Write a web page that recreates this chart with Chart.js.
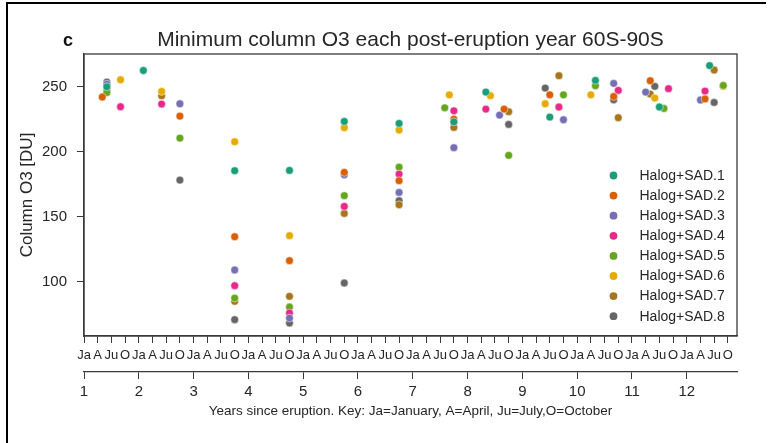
<!DOCTYPE html>
<html>
<head>
<meta charset="utf-8">
<title>Minimum column O3 60S-90S</title>
<script src="https://cdn.jsdelivr.net/npm/chart.js@4.4.1/dist/chart.umd.min.js"></script>
<style>
    html, body { margin: 0; padding: 0; background: #fff; }
    #wrap { width: 779px; height: 443px; }
</style>
</head>
<body>
<div id="wrap"><canvas id="o3-chart" width="779" height="443"></canvas></div>
<script>
// x = months since January of year 1 after the eruption, y = minimum column O3 [DU]
const seriesNames = ['Halog+SAD.1', 'Halog+SAD.2', 'Halog+SAD.3', 'Halog+SAD.4',
                     'Halog+SAD.5', 'Halog+SAD.6', 'Halog+SAD.7', 'Halog+SAD.8'];
const seriesColors = ['#1b9e77', '#d95f02', '#7570b3', '#e7298a',
                      '#66a61e', '#e6ab02', '#a6761d', '#666666'];

const sad1Months = [5, 13, 33, 45, 57, 69, 81, 88, 102, 112, 126, 137];
const sad1O3 = [250, 262.5, 185.4, 185.6, 223.3, 221.8, 223, 245.9, 226.7, 254.9, 234.4, 266.3];

const sad2Months = [4, 21, 33, 45, 57, 69, 81, 92, 102, 116, 124, 136];
const sad2O3 = [242.1, 227.4, 134.6, 116.2, 184.1, 177.7, 225.1, 232.8, 243.8, 242.5, 254.6, 240.6];

const sad3Months = [5, 21, 33, 45, 57, 69, 81, 91, 105, 116, 123, 135];
const sad3O3 = [252, 236.9, 109, 72, 182.3, 168.7, 203.1, 228.2, 224.6, 252.6, 245.9, 239.8];

const sad4Months = [8, 17, 33, 45, 57, 69, 81, 88, 104, 117, 128, 136];
const sad4O3 = [234.6, 236.7, 96.9, 75.9, 157.9, 182.8, 231.5, 232.8, 234.4, 247.2, 248.5, 246.7];

const sad5Months = [5, 21, 33, 45, 57, 69, 79, 93, 105, 112, 127, 140];
const sad5O3 = [245.5, 210.5, 87.4, 80.5, 166.2, 188.2, 233.8, 197.2, 243.8, 250.8, 233.3, 251];

const sad6Months = [8, 17, 33, 45, 57, 69, 80, 89, 101, 111, 125, 140];
const sad6O3 = [255.4, 246.4, 207.7, 135.4, 218.5, 216.7, 243.8, 243.1, 236.9, 243.8, 241.3, 250.3];

const sad7Months = [5, 17, 33, 45, 57, 69, 81, 93, 104, 117, 124, 138];
const sad7O3 = [247.3, 243.1, 84.9, 88.7, 152.5, 159.2, 218.7, 230.8, 258.5, 226.2, 244.4, 262.9];

const sad8Months = [5, 21, 33, 45, 57, 69, 81, 93, 101, 116, 125, 138];
const sad8O3 = [253.6, 178.2, 70.8, 68.2, 99, 162.3, 222.8, 221, 249, 240, 250.3, 237.9];

const allMonths = [sad1Months, sad2Months, sad3Months, sad4Months, sad5Months, sad6Months, sad7Months, sad8Months];
const allO3 = [sad1O3, sad2O3, sad3O3, sad4O3, sad5O3, sad6O3, sad7O3, sad8O3];

// tick labels
const monthLabels = ['Ja', 'A', 'Ju', 'O'];
const monthTicks = [];
for (let m = 0; m <= 141; m += 3) monthTicks.push(m);
const yearLabels = ['1', '2', '3', '4', '5', '6', '7', '8', '9', '10', '11', '12'];
const yearTicks = yearLabels.map((_, i) => i * 12);
const yTicks = [100, 150, 200, 250];

const textColor = '#262626';
const axisColor = '#3a3a3a';
const fontFamily = '"Liberation Sans", Arial, sans-serif';

const datasets = seriesNames.map((name, i) => ({
    label: name,
    data: allMonths[i].map((m, j) => ({ x: m, y: allO3[i][j] })),
    backgroundColor: seriesColors[i],
    borderColor: '#ffffff',
    borderWidth: 0.5,
    pointRadius: 3.9,
    pointHoverRadius: 3.9
}));

// outer panel frame, plot box and the "c" tag
const panelFrame = {
    id: 'panelFrame',
    afterDraw(chart) {
        const ctx = chart.ctx;
        const a = chart.chartArea;
        ctx.save();
        ctx.strokeStyle = '#000';
        ctx.lineWidth = 2;
        ctx.beginPath();
        ctx.moveTo(7, 443);
        ctx.lineTo(7, 3);
        ctx.lineTo(766, 3);
        ctx.stroke();

        ctx.strokeStyle = axisColor;
        ctx.lineWidth = 1.3;
        ctx.strokeRect(a.left, a.top, a.right - a.left, a.bottom - a.top);

        ctx.fillStyle = '#111';
        ctx.font = 'bold 18px ' + fontFamily;
        ctx.textAlign = 'center';
        ctx.textBaseline = 'middle';
        ctx.fillText('c', 68, 41);
        ctx.restore();
    }
};

// legend drawn inside the plot, lower right
const insideLegend = {
    id: 'insideLegend',
    afterDatasetsDraw(chart) {
        const ctx = chart.ctx;
        ctx.save();
        ctx.font = '14px ' + fontFamily;
        ctx.textAlign = 'left';
        ctx.textBaseline = 'middle';
        chart.data.datasets.forEach((ds, i) => {
            const y = 175.5 + i * 20.1;
            ctx.beginPath();
            ctx.arc(613.5, y, 3.9, 0, Math.PI * 2);
            ctx.fillStyle = ds.backgroundColor;
            ctx.fill();
            ctx.fillStyle = textColor;
            ctx.fillText(ds.label, 639.5, y + 0.5);
        });
        ctx.restore();
    }
};

const ctx = document.getElementById('o3-chart').getContext('2d');
const chart = new Chart(ctx, {
    type: 'scatter',
    data: { datasets: datasets },
    plugins: [panelFrame, insideLegend],
    options: {
        responsive: false,
        animation: false,
        devicePixelRatio: 1,
        layout: { padding: { left: 0, right: 42, top: 0, bottom: 24 } },
        plugins: {
            legend: { display: false },
            tooltip: { enabled: false },
            title: {
                display: true,
                fullSize: false,  // centre over the plot box, not the canvas
                text: 'Minimum column O3 each post-eruption year 60S-90S',
                color: textColor,
                font: { family: fontFamily, size: 21, weight: 'normal' },
                padding: { top: 28, bottom: 0.8 }
            }
        },
        scales: {
            x: {
                type: 'linear',
                position: 'bottom',
                weight: 0,
                min: 0,
                max: 143,
                afterBuildTicks: (scale) => { scale.ticks = monthTicks.map(v => ({ value: v })); },
                afterFit: (scale) => { scale.height = 36; },
                ticks: {
                    autoSkip: false,
                    maxRotation: 0,
                    padding: 5,
                    color: textColor,
                    font: { family: fontFamily, size: 13 },
                    callback: (v) => monthLabels[(v / 3) % 4]
                },
                grid: { drawOnChartArea: false, drawTicks: true, tickLength: 7, color: axisColor },
                border: { display: true, color: axisColor, width: 1.3 }
            },
            x2: {
                type: 'linear',
                position: 'bottom',
                weight: 1,
                min: 0,
                max: 143,
                afterBuildTicks: (scale) => { scale.ticks = yearTicks.map(v => ({ value: v })); },
                afterFit: (scale) => { scale.height = 47; },
                ticks: {
                    autoSkip: false,
                    maxRotation: 0,
                    padding: 3.5,
                    color: textColor,
                    font: { family: fontFamily, size: 15 },
                    callback: (v) => yearLabels[v / 12]
                },
                grid: { drawOnChartArea: false, drawTicks: true, tickLength: 7, color: axisColor },
                border: { display: true, color: axisColor, width: 1.3 },
                title: {
                    display: true,
                    text: 'Years since eruption. Key: Ja=January, A=April, Ju=July,O=October',
                    color: textColor,
                    font: { family: fontFamily, size: 13.5 },
                    padding: { top: 0, bottom: 0 }
                }
            },
            y: {
                type: 'linear',
                position: 'left',
                min: 58.2,
                max: 275.2,
                afterBuildTicks: (scale) => { scale.ticks = yTicks.map(v => ({ value: v })); },
                afterFit: (scale) => { scale.width = 84; },
                ticks: {
                    padding: 10,
                    color: textColor,
                    font: { family: fontFamily, size: 15 }
                },
                grid: { drawOnChartArea: false, drawTicks: true, tickLength: 7, color: axisColor },
                border: { display: true, color: axisColor, width: 1.3 },
                title: {
                    display: true,
                    text: 'Column O3 [DU]',
                    color: textColor,
                    font: { family: fontFamily, size: 17 },
                    padding: { top: 17, bottom: 0 }
                }
            }
        }
    }
});
</script>
</body>
</html>
